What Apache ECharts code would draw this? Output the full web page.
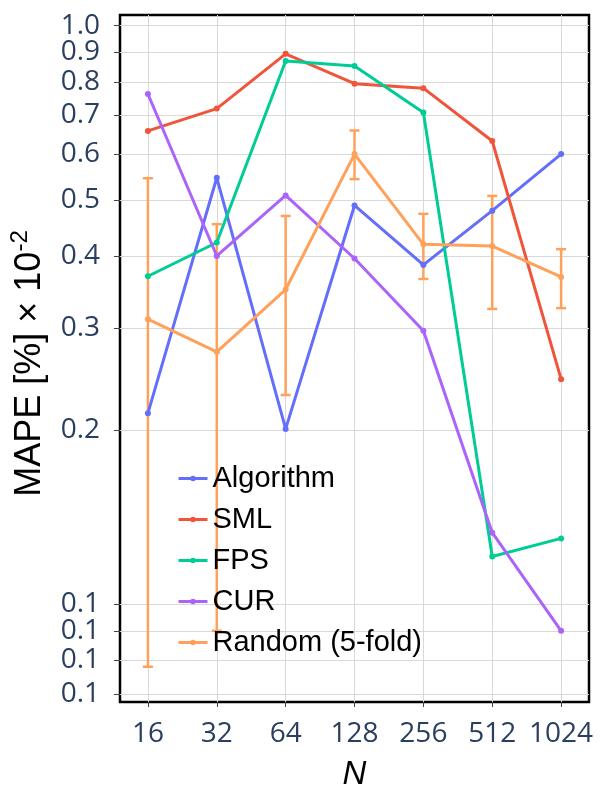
<!DOCTYPE html>
<html>
<head>
<meta charset="utf-8">
<script src="https://cdn.jsdelivr.net/npm/echarts@6/dist/echarts.min.js"></script>
<style>
html, body { margin: 0; padding: 0; background: #fff; }
#chart { width: 600px; height: 800px; }
</style>
</head>
<body>
<div id="chart"></div>
<script>
// values (log-scaled y axis)
const nValues = [16, 32, 64, 128, 256, 512, 1024];
const yTicks = [0.07, 0.08, 0.09, 0.1, 0.2, 0.3, 0.4, 0.5, 0.6, 0.7, 0.8, 0.9, 1.0];
const yLabels = [0.07, 0.08, 0.09, 0.1, 0.2, 0.3, 0.4, 0.5, 0.6, 0.7, 0.8, 0.9];
const yTopLabel = [1.0];

const algorithm = [0.214, 0.546, 0.201, 0.489, 0.386, 0.479, 0.600];
const sml = [0.658, 0.719, 0.894, 0.794, 0.780, 0.632, 0.245];
const fps = [0.369, 0.422, 0.869, 0.852, 0.708, 0.121, 0.130];
const cur = [0.762, 0.400, 0.509, 0.396, 0.297, 0.133, 0.090];
const randomMean = [0.311, 0.273, 0.350, 0.600, 0.419, 0.416, 0.368];
const randomLow = [0.078, 0.090, 0.230, 0.543, 0.365, 0.324, 0.325];
const randomHigh = [0.545, 0.454, 0.469, 0.659, 0.473, 0.508, 0.411];

const names = ['Algorithm', 'SML', 'FPS', 'CUR', 'Random (5-fold)'];
const colors = ['#636efa', '#EF553B', '#00cc96', '#ab63fa', '#FFA15A'];

const tickFont = '"Open Sans", sans-serif';
const textFont = '"Liberation Sans", Arial, sans-serif';
const yMin = 0.0678, yMax = 1.0435;

let chart = echarts.init(document.getElementById('chart'), null, {renderer: 'canvas'});

function lineSeries(name, values, color) {
    return {
        name: name,
        type: 'line',
        data: values.map((v, i) => [nValues[i], v]),
        symbol: 'circle',
        symbolSize: 6,
        showSymbol: true,
        lineStyle: {width: 3, color: color},
        itemStyle: {color: color},
        emphasis: {disabled: true}
    };
}

let series = [
    lineSeries(names[0], algorithm, colors[0]),
    lineSeries(names[1], sml, colors[1]),
    lineSeries(names[2], fps, colors[2]),
    lineSeries(names[3], cur, colors[3]),
    lineSeries(names[4], randomMean, colors[4]),
    {
        name: 'Random error',
        type: 'custom',
        data: nValues.map((n, i) => [n, randomLow[i], randomHigh[i]]),
        encode: {x: 0, y: [1, 2]},
        renderItem: (params, api) => {
            let lo = api.coord([api.value(0), api.value(1)]);
            let hi = api.coord([api.value(0), api.value(2)]);
            let style = {stroke: colors[4], lineWidth: 2.5};
            let half = 5;
            return {
                type: 'group',
                children: [
                    {type: 'line', shape: {x1: lo[0], y1: lo[1], x2: hi[0], y2: hi[1]}, style: style},
                    {type: 'line', shape: {x1: lo[0] - half, y1: lo[1], x2: lo[0] + half, y2: lo[1]}, style: style},
                    {type: 'line', shape: {x1: hi[0] - half, y1: hi[1], x2: hi[0] + half, y2: hi[1]}, style: style}
                ]
            };
        }
    }
];

let labelStyle = {fontSize: 28, color: '#2a3f5f', fontFamily: tickFont, margin: 20, formatter: v => v.toFixed(1)};

let option = {
    animation: false,
    backgroundColor: '#fff',
    grid: {
        left: 118, right: 11, top: 15, bottom: 98,
        show: true, borderColor: '#000', borderWidth: 2.5, backgroundColor: 'transparent'
    },
    legend: {
        data: names,
        orient: 'vertical',
        left: 172,
        top: 459,
        itemWidth: 29,
        itemHeight: 7,
        itemGap: 12,
        lineStyle: {width: 3},
        textStyle: {fontSize: 29, color: '#000', fontFamily: textFont, lineHeight: 29}
    },
    xAxis: {
        type: 'log',
        logBase: 2,
        min: 12.08,
        max: 1356,
        name: 'N',
        nameLocation: 'middle',
        nameGap: 56,
        nameTextStyle: {fontSize: 33, fontStyle: 'italic', color: '#000', fontFamily: textFont},
        axisLine: {show: false},
        axisTick: {show: true, length: 5, lineStyle: {color: '#444'}, customValues: nValues},
        axisLabel: {
            customValues: nValues,
            fontSize: 28, color: '#2a3f5f', fontFamily: tickFont, margin: 18,
            formatter: v => String(Math.round(v))
        },
        splitLine: {show: true, lineStyle: {color: '#d9d9d9', width: 1}},
        minorTick: {show: false},
        minorSplitLine: {show: false}
    },
    yAxis: [{
        type: 'log',
        min: yMin,
        max: yMax,
        position: 'left',
        name: '{a|MAPE [%] × 10}{s|-2}',
        nameLocation: 'middle',
        nameGap: 72,
        nameRotate: 90,
        nameTextStyle: {
            color: '#000', fontFamily: textFont, fontSize: 36,
            padding: [0, 10, 0, 0],
            rich: {
                a: {fontSize: 36, color: '#000', fontFamily: textFont, lineHeight: 40, verticalAlign: 'bottom'},
                s: {fontSize: 24, color: '#000', fontFamily: textFont, lineHeight: 40, verticalAlign: 'top', padding: [0, 0, 12, 0]}
            }
        },
        axisLine: {show: false},
        axisTick: {show: true, length: 6, lineStyle: {color: '#444'}, customValues: yTicks},
        axisLabel: Object.assign({customValues: yLabels}, labelStyle),
        splitLine: {show: true, lineStyle: {color: '#d9d9d9', width: 1}},
        minorTick: {show: false},
        minorSplitLine: {show: false}
    }, {
        // second axis on the same scale, only to carry the top "1.0" label
        type: 'log',
        min: yMin,
        max: yMax,
        position: 'left',
        axisLine: {show: false},
        axisTick: {show: false},
        axisLabel: Object.assign({customValues: yTopLabel}, labelStyle),
        splitLine: {show: false},
        minorTick: {show: false},
        minorSplitLine: {show: false}
    }],
    series: series
};

chart.setOption(option);
</script>
</body>
</html>
